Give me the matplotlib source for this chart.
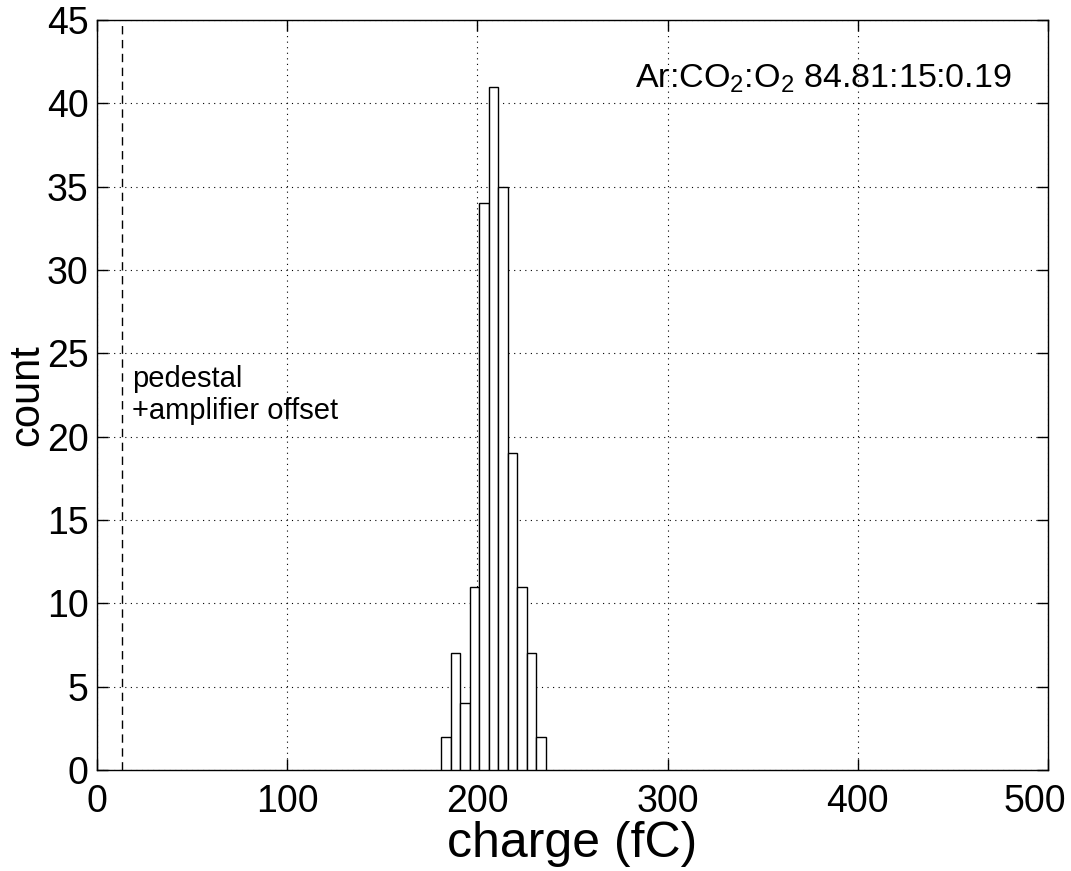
"""
Charge histogram, MATLAB-like look
"""

import numpy as np
import matplotlib
matplotlib.use('Agg')
import matplotlib.pyplot as plt
from matplotlib.transforms import ScaledTranslation

plt.rcParams['font.family'] = ['Liberation Sans', 'DejaVu Sans']
plt.rcParams['mathtext.fontset'] = 'custom'
plt.rcParams['mathtext.rm'] = 'Liberation Sans'
plt.rcParams['mathtext.it'] = 'Liberation Sans'

# data
bin_centers = [183.5, 188.5, 193.5, 198.5, 203.5, 208.5, 213.5, 218.5, 223.5, 228.5, 233.5]
counts = [2, 7, 4, 11, 34, 41, 35, 19, 11, 7, 2]
bin_width = 5
pedestal = 13.3
x_ticks = [0, 100, 200, 300, 400, 500]
y_ticks = [0, 5, 10, 15, 20, 25, 30, 35, 40, 45]

fig = plt.figure(figsize=(10.71, 8.71), dpi=100)
ax = fig.add_axes([0.0906, 0.116, 0.8879, 0.861])

ax.bar(bin_centers, counts, width=bin_width, color='white', edgecolor='black',
       linewidth=1.0, zorder=3)
ax.axvline(pedestal, color='black', linestyle=(0, (6, 4)), linewidth=1.0, zorder=3)

ax.set_xlim(0, 500)
ax.set_ylim(0, 45)
ax.set_xticks(x_ticks)
ax.set_yticks(y_ticks)
ax.grid(True, linestyle=(0, (1, 4)), color='black', linewidth=0.8)
ax.set_axisbelow(True)
ax.tick_params(direction='in', length=8, width=1, labelsize=27, top=True, right=True)
ax.tick_params(axis='x', pad=10)
ax.tick_params(axis='y', pad=6)
for s in ax.spines.values():
    s.set_linewidth(1.0)

# MATLAB pulls the last x label inside the figure
last = ax.get_xticklabels()[-1]
last.set_transform(last.get_transform() + ScaledTranslation(-13 / 100, 0, fig.dpi_scale_trans))

ax.set_xlabel('charge (fC)', fontsize=36, labelpad=1)
ax.set_ylabel('count', fontsize=30, labelpad=0)

ax.text(283, 41.5, r'Ar:CO$_2$:O$_2$ 84.81:15:0.19', fontsize=24.5, va='center')
ax.text(18.5, 22.5, 'pedestal\n+amplifier offset', fontsize=21, va='center',
        linespacing=1.15)

fig.savefig('out.png', dpi=100)
